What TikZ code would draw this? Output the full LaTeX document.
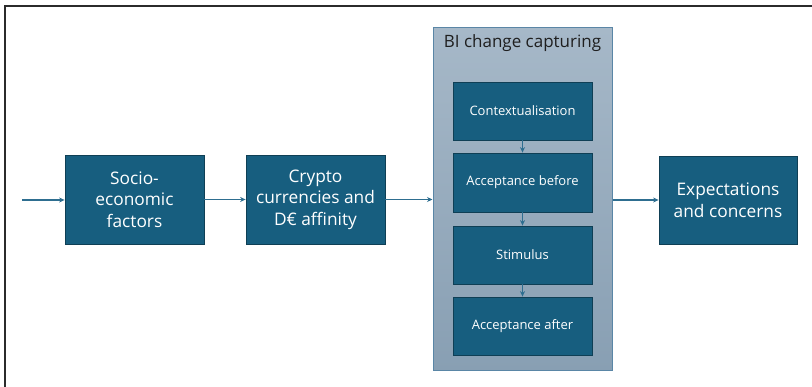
\documentclass[tikz,border=0pt]{standalone}
\usepackage{fontspec}
\setmainfont{Open Sans}
\usetikzlibrary{arrows.meta}
\definecolor{boxfill}{HTML}{175E7F}
\definecolor{boxline}{HTML}{0F3F55}
\definecolor{contline}{HTML}{5A86A6}
\definecolor{conttop}{HTML}{A6B8C8}
\definecolor{contbot}{HTML}{889FB3}
\definecolor{arrowc}{HTML}{2E6E90}
\definecolor{framec}{HTML}{2B2B2B}
\tikzset{
  mainbox/.style={draw=boxline, line width=0.8pt, fill=boxfill, text=white, align=center,
    font=\fontsize{17.3}{21.5}\selectfont, inner sep=0pt},
  innerbox/.style={draw=boxline, line width=0.8pt, fill=boxfill, text=white, align=center,
    font=\fontsize{13}{15}\selectfont, inner sep=0pt, minimum width=139pt},
  container/.style={draw=contline, line width=1pt, top color=conttop, bottom color=contbot,
    inner sep=0pt, minimum width=179pt, minimum height=343pt},
  flow/.style={draw=arrowc, line width=1.3pt, -{Stealth[length=5.5pt,width=5pt]}},
}
\begin{document}
\begin{tikzpicture}[x=1pt,y=-1pt]
\useasboundingbox (0,0) rectangle (812,387);
\draw[framec, line width=2pt] (5,387) -- (5,6.5) -- (812,6.5);
\node[container] (bi) at (522.5,199.5) {};
\node[font=\fontsize{17}{20}\selectfont, text=black!88] (title) at (522.5,43) {BI change capturing};
\node[mainbox, minimum width=139pt, minimum height=89pt] (socio) at (134.5,199.5) {Socio-\\economic\\factors};
\node[mainbox, minimum width=139pt, minimum height=89pt] (crypto) at (315.5,199.5) {Crypto\\currencies and\\D€ affinity};
\node[mainbox, minimum width=138pt, minimum height=88pt] (expect) at (728,200) {Expectations\\and concerns};
\node[innerbox, minimum height=58pt] (ctx) at (522.5,111) {Contextualisation};
\node[innerbox, minimum height=59pt] (accb) at (522.5,182.5) {Acceptance before};
\node[innerbox, minimum height=58pt] (stim) at (522.5,255) {Stimulus};
\node[innerbox, minimum height=58pt] (acca) at (522.5,326) {Acceptance after};
\coordinate (in) at (22,200);
\draw[flow] (in) -- (in -| socio.west);
\draw[flow] (socio) -- (crypto);
\draw[flow] (crypto.east) -- (bi.west |- crypto.east);
\draw[flow] (bi.east |- expect.west) -- (expect.west);
\draw[flow] (ctx) -- (accb);
\draw[flow] (accb) -- (stim);
\draw[flow] (stim) -- (acca);
\end{tikzpicture}
\end{document}
